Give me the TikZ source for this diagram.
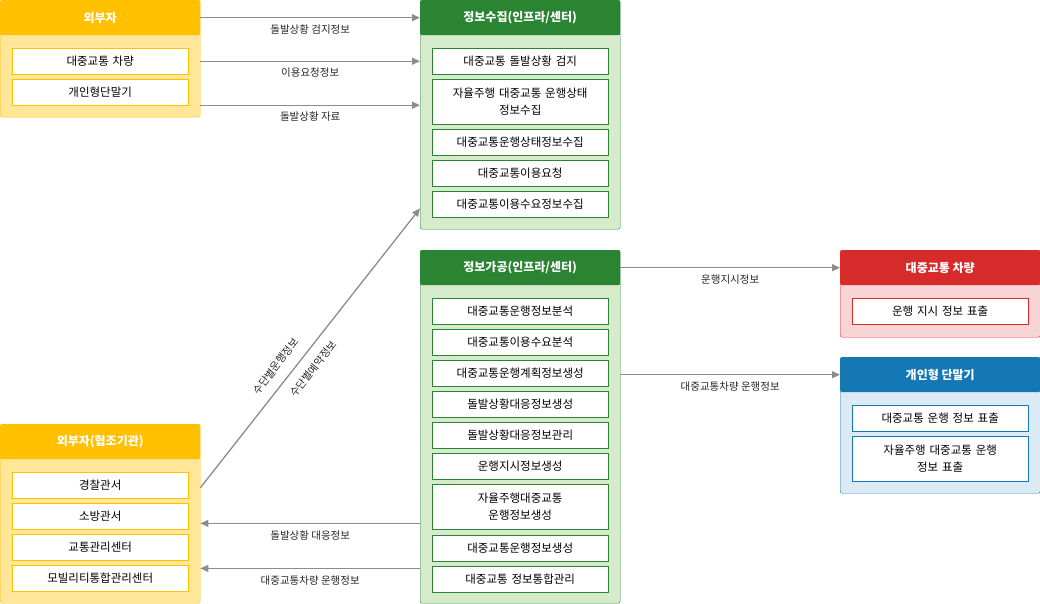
\documentclass[tikz,border=0pt]{standalone}
\usepackage{fontspec}
\setmainfont{Noto Sans CJK KR}
\usetikzlibrary{arrows.meta}
\definecolor{ylwhead}{HTML}{FFC000}
\definecolor{ylwbody}{HTML}{FFE699}
\definecolor{grnhead}{HTML}{2A8432}
\definecolor{grnbody}{HTML}{D5EBCB}
\definecolor{redhead}{HTML}{D72B2B}
\definecolor{redbody}{HTML}{F9D4D4}
\definecolor{bluhead}{HTML}{1478B5}
\definecolor{blubody}{HTML}{DCEAF5}
\definecolor{flowgray}{HTML}{8C8C8C}
\tikzset{
	panel/.style={draw=#1head, fill=#1body, anchor=north west, minimum width=200pt, rounded corners=2pt},
	head/.style={fill=#1head, anchor=north west, minimum width=200pt, minimum height=35pt, text=white, font=\fontsize{12}{14}\selectfont\bfseries, rounded corners=2pt},
	item/.style={draw=#1head, fill=white, anchor=north west, minimum width=176pt, text width=170pt, align=center, inner sep=2pt, font=\fontsize{11.5}{17}\selectfont},
	flow/.style={draw=flowgray, line width=1.3pt, -{Triangle[length=8pt,width=7pt]}},
	tag/.style={font=\fontsize{10.5}{12}\selectfont, text=black!85}
}
\begin{document}
\begin{tikzpicture}[x=1pt,y=-1pt]
	\useasboundingbox (0,0) rectangle (1040,604);
	% left top
	\node (extbody) [panel=ylw, minimum height=117pt] at (0,0) {};
	\node (ext) [head=ylw] at (0,0) {외부자};
	\node (ext1) [item=ylw, minimum height=26pt] at (12,48) {대중교통 차량};
	\node (ext2) [item=ylw, minimum height=26pt] at (12,79) {개인형단말기};
	% collect
	\node (colbody) [panel=grn, minimum height=229pt] at (420,0) {};
	\node (col) [head=grn] at (420,0) {정보수집(인프라/센터)};
	\node (col1) [item=grn, minimum height=26pt] at (432,48) {대중교통 돌발상황 검지};
	\node (col2) [item=grn, minimum height=45pt] at (432,79) {자율주행 대중교통 운행상태\\정보수집};
	\node (col3) [item=grn, minimum height=26pt] at (432,129) {대중교통운행상태정보수집};
	\node (col4) [item=grn, minimum height=26pt] at (432,160) {대중교통이용요청};
	\node (col5) [item=grn, minimum height=26pt] at (432,191) {대중교통이용수요정보수집};
	% process
	\node (procbody) [panel=grn, minimum height=353pt] at (420,250) {};
	\node (proc) [head=grn] at (420,250) {정보가공(인프라/센터)};
	\node (proc1) [item=grn, minimum height=26pt] at (432,298) {대중교통운행정보분석};
	\node (proc2) [item=grn, minimum height=26pt] at (432,329) {대중교통이용수요분석};
	\node (proc3) [item=grn, minimum height=26pt] at (432,360) {대중교통운행계획정보생성};
	\node (proc4) [item=grn, minimum height=26pt] at (432,391) {돌발상황대응정보생성};
	\node (proc5) [item=grn, minimum height=26pt] at (432,422) {돌발상황대응정보관리};
	\node (proc6) [item=grn, minimum height=26pt] at (432,453) {운행지시정보생성};
	\node (proc7) [item=grn, minimum height=45pt] at (432,484) {자율주행대중교통\\운행정보생성};
	\node (proc8) [item=grn, minimum height=26pt] at (432,535) {대중교통운행정보생성};
	\node (proc9) [item=grn, minimum height=26pt] at (432,566) {대중교통 정보통합관리};
	% vehicle
	\node (vehbody) [panel=red, minimum height=87pt] at (840,250) {};
	\node (veh) [head=red] at (840,250) {대중교통 차량};
	\node (veh1) [item=red, minimum height=26pt] at (852,298) {운행 지시 정보 표출};
	% terminal
	\node (termbody) [panel=blu, minimum height=136pt] at (840,357) {};
	\node (term) [head=blu] at (840,357) {개인형 단말기};
	\node (term1) [item=blu, minimum height=26pt] at (852,405) {대중교통 운행 정보 표출};
	\node (term2) [item=blu, minimum height=45pt] at (852,436) {자율주행 대중교통 운행\\정보 표출};
	% cooperating agencies
	\node (agbody) [panel=ylw, minimum height=179pt] at (0,424) {};
	\node (ag) [head=ylw] at (0,424) {외부자(협조기관)};
	\node (ag1) [item=ylw, minimum height=26pt] at (12,472) {경찰관서};
	\node (ag2) [item=ylw, minimum height=26pt] at (12,503) {소방관서};
	\node (ag3) [item=ylw, minimum height=26pt] at (12,534) {교통관리센터};
	\node (ag4) [item=ylw, minimum height=26pt] at (12,565) {모빌리티통합관리센터};
	% flows
	\draw [flow] (ext.east) -- (col.west) node [tag, midway, below=3pt] {돌발상황 검지정보};
	\draw [flow] (extbody.east |- ext1.east) -- (colbody.west |- ext1.east) node [tag, midway, below=3pt] {이용요청정보};
	\draw [flow] ([yshift=-46.5pt]extbody.east) -- ([yshift=-46.5pt]extbody.east -| colbody.west) node [tag, midway, below=3pt] {돌발상황 자료};
	\draw [flow] ([yshift=-46pt]ag.east) -- ([yshift=21pt]colbody.south west)
		node [tag, pos=0.40, sloped, above=7pt] {수단별운행정보}
		node [tag, pos=0.46, sloped, below=7pt] {수단별예약정보};
	\draw [flow] (proc.east) -- (veh.west) node [tag, midway, below=3pt] {운행지시정보};
	\draw [flow] (procbody.east |- term.east) -- (term.west) node [tag, midway, below=3pt] {대중교통차량 운행정보};
	\draw [flow] ([yshift=80pt]procbody.south west) -- ([yshift=80pt]agbody.south east) node [tag, midway, below=3pt] {돌발상황 대응정보};
	\draw [flow] ([yshift=35pt]procbody.south west) -- ([yshift=35pt]agbody.south east) node [tag, midway, below=3pt] {대중교통차량 운행정보};
\end{tikzpicture}
\end{document}
